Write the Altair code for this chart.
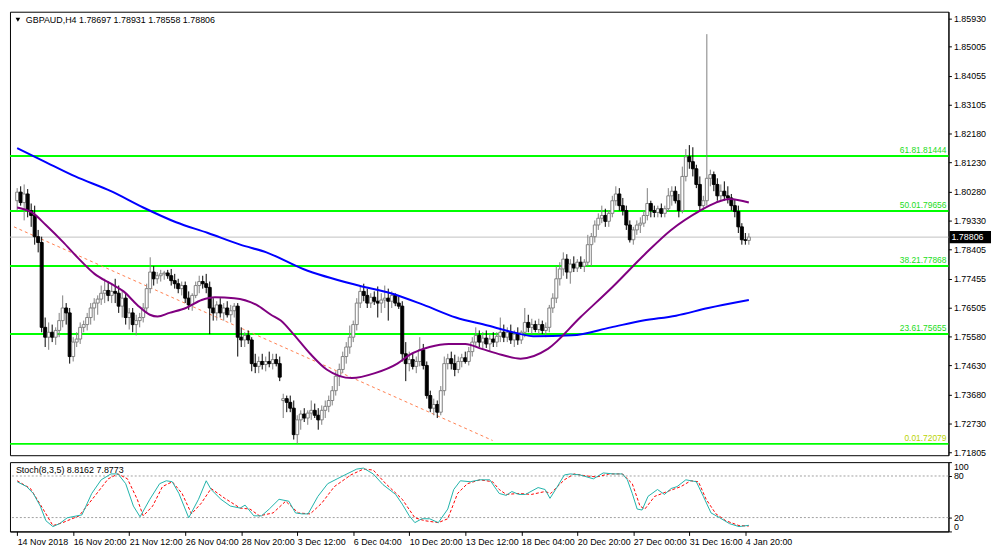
import json
import altair as alt
import pandas as pd

# ---------------- data ----------------
opens = [
    1.7999, 1.8027, 1.7993, 1.8021, 1.7967, 1.7951, 1.7882, 1.7863, 1.7587, 1.7555,
    1.7571, 1.7555, 1.7577, 1.7609, 1.7650, 1.7634, 1.7492, 1.7539, 1.7549, 1.7587,
    1.7596, 1.7619, 1.7650, 1.7666, 1.7679, 1.7698, 1.7707, 1.7691, 1.7704, 1.7698,
    1.7656, 1.7682, 1.7619, 1.7634, 1.7596, 1.7609, 1.7619, 1.7650, 1.7713, 1.7767,
    1.7745, 1.7755, 1.7761, 1.7764, 1.7755, 1.7739, 1.7729, 1.7713, 1.7723, 1.7682,
    1.7660, 1.7691, 1.7723, 1.7736, 1.7729, 1.7717, 1.7650, 1.7634, 1.7660, 1.7634,
    1.7650, 1.7628, 1.7641, 1.7656, 1.7555, 1.7546, 1.7561, 1.7546, 1.7469, 1.7460,
    1.7476, 1.7466, 1.7476, 1.7469, 1.7482, 1.7469, 1.7349, 1.7355, 1.7343, 1.7324,
    1.7238, 1.7286, 1.7305, 1.7292, 1.7308, 1.7317, 1.7301, 1.7286, 1.7317, 1.7330,
    1.7349, 1.7381, 1.7428, 1.7450, 1.7492, 1.7523, 1.7555, 1.7596, 1.7666, 1.7704,
    1.7691, 1.7666, 1.7685, 1.7672, 1.7666, 1.7676, 1.7682, 1.7672, 1.7691, 1.7666,
    1.7656, 1.7501, 1.7469, 1.7482, 1.7460, 1.7476, 1.7514, 1.7463, 1.7365, 1.7324,
    1.7336, 1.7311, 1.7381, 1.7469, 1.7485, 1.7469, 1.7450, 1.7476, 1.7488, 1.7476,
    1.7508, 1.7539, 1.7561, 1.7539, 1.7552, 1.7533, 1.7549, 1.7539, 1.7558, 1.7571,
    1.7555, 1.7571, 1.7546, 1.7565, 1.7546, 1.7571, 1.7603, 1.7587, 1.7596, 1.7580,
    1.7596, 1.7577, 1.7587, 1.7650, 1.7682, 1.7745, 1.7777, 1.7809, 1.7767, 1.7793,
    1.7780, 1.7799, 1.7786, 1.7799, 1.7856, 1.7882, 1.7920, 1.7942, 1.7951, 1.7932,
    1.7958, 1.7999, 1.8021, 1.7983, 1.7967, 1.7920, 1.7872, 1.7904, 1.7920, 1.7926,
    1.7951, 1.7990, 1.7967, 1.7961, 1.7973, 1.7958, 1.7973, 1.8015, 1.8030, 1.7999,
    1.7967, 1.8078, 1.8142, 1.8126, 1.8103, 1.8052, 1.7983, 1.7999, 1.8072, 1.8084,
    1.8052, 1.8015, 1.8030, 1.8015, 1.8008, 1.7983, 1.7964, 1.7914, 1.7872, 1.78697,
]
highs = [
    1.8040, 1.8046, 1.8052, 1.8037, 1.7990, 1.7983, 1.7904, 1.7882, 1.7619, 1.7603,
    1.7596, 1.7587, 1.7634, 1.7691, 1.7666, 1.7650, 1.7555, 1.7571, 1.7603, 1.7609,
    1.7634, 1.7666, 1.7682, 1.7691, 1.7723, 1.7745, 1.7736, 1.7729, 1.7745, 1.7723,
    1.7704, 1.7698, 1.7650, 1.7650, 1.7628, 1.7634, 1.7666, 1.7729, 1.7815, 1.7786,
    1.7767, 1.7774, 1.7771, 1.7774, 1.7777, 1.7761, 1.7745, 1.7736, 1.7736, 1.7704,
    1.7698, 1.7736, 1.7755, 1.7755, 1.7761, 1.7736, 1.7682, 1.7672, 1.7682, 1.7666,
    1.7672, 1.7660, 1.7666, 1.7666, 1.7587, 1.7571, 1.7577, 1.7555, 1.7501, 1.7492,
    1.7501, 1.7492, 1.7508, 1.7501, 1.7501, 1.7492, 1.7371, 1.7365, 1.7365, 1.7349,
    1.7301, 1.7317, 1.7324, 1.7317, 1.7349, 1.7339, 1.7324, 1.7333, 1.7349, 1.7365,
    1.7396, 1.7444, 1.7469, 1.7508, 1.7539, 1.7593, 1.7609, 1.7682, 1.7723, 1.7729,
    1.7713, 1.7698, 1.7704, 1.7720, 1.7698, 1.7723, 1.7713, 1.7704, 1.7698, 1.7688,
    1.7672, 1.7539, 1.7508, 1.7501, 1.7492, 1.7555, 1.7533, 1.7476, 1.7381, 1.7355,
    1.7349, 1.7396, 1.7492, 1.7501, 1.7508, 1.7498, 1.7492, 1.7501, 1.7508, 1.7523,
    1.7555, 1.7587, 1.7577, 1.7571, 1.7577, 1.7565, 1.7571, 1.7571, 1.7619, 1.7596,
    1.7587, 1.7596, 1.7577, 1.7587, 1.7577, 1.7650, 1.7628, 1.7615, 1.7609, 1.7615,
    1.7609, 1.7603, 1.7660, 1.7698, 1.7786, 1.7799, 1.7831, 1.7825, 1.7809, 1.7818,
    1.7809, 1.7818, 1.7809, 1.7888, 1.7894, 1.7935, 1.7958, 1.7983, 1.7973, 1.7967,
    1.8015, 1.8046, 1.8040, 1.8008, 1.7983, 1.7935, 1.7914, 1.7935, 1.7945, 1.7967,
    1.8040, 1.7999, 1.7983, 1.7983, 1.7990, 1.7983, 1.8040, 1.8046, 1.8046, 1.8021,
    1.8110, 1.8167, 1.8180, 1.8173, 1.8116, 1.8078, 1.8015, 1.8541, 1.8100, 1.8094,
    1.8072, 1.8052, 1.8062, 1.8046, 1.8021, 1.8005, 1.7983, 1.7926, 1.7894, 1.78931,
]
lows = [
    1.7967, 1.7983, 1.7935, 1.7945, 1.7914, 1.7856, 1.7831, 1.7571, 1.7523, 1.7514,
    1.7539, 1.7530, 1.7555, 1.7587, 1.7596, 1.7469, 1.7476, 1.7523, 1.7533, 1.7571,
    1.7577, 1.7596, 1.7609, 1.7628, 1.7660, 1.7666, 1.7672, 1.7666, 1.7666, 1.7634,
    1.7619, 1.7596, 1.7580, 1.7571, 1.7561, 1.7587, 1.7603, 1.7634, 1.7698, 1.7723,
    1.7729, 1.7736, 1.7742, 1.7745, 1.7723, 1.7713, 1.7698, 1.7691, 1.7666, 1.7644,
    1.7641, 1.7682, 1.7698, 1.7713, 1.7698, 1.7565, 1.7609, 1.7609, 1.7619, 1.7609,
    1.7619, 1.7603, 1.7619, 1.7492, 1.7523, 1.7523, 1.7533, 1.7444, 1.7438, 1.7438,
    1.7450, 1.7444, 1.7457, 1.7450, 1.7460, 1.7412, 1.7292, 1.7311, 1.7311, 1.7222,
    1.7208, 1.7254, 1.7279, 1.7270, 1.7286, 1.7292, 1.7254, 1.7270, 1.7292, 1.7311,
    1.7333, 1.7365, 1.7396, 1.7438, 1.7469, 1.7501, 1.7539, 1.7577, 1.7650, 1.7672,
    1.7650, 1.7650, 1.7660, 1.7619, 1.7634, 1.7650, 1.7609, 1.7650, 1.7656, 1.7647,
    1.7476, 1.7412, 1.7444, 1.7450, 1.7438, 1.7460, 1.7450, 1.7355, 1.7311, 1.7301,
    1.7292, 1.7301, 1.7365, 1.7450, 1.7450, 1.7428, 1.7438, 1.7457, 1.7469, 1.7463,
    1.7492, 1.7523, 1.7523, 1.7514, 1.7520, 1.7508, 1.7523, 1.7523, 1.7539, 1.7539,
    1.7539, 1.7533, 1.7523, 1.7530, 1.7533, 1.7555, 1.7571, 1.7565, 1.7571, 1.7565,
    1.7565, 1.7555, 1.7571, 1.7634, 1.7666, 1.7723, 1.7755, 1.7745, 1.7729, 1.7767,
    1.7767, 1.7777, 1.7767, 1.7786, 1.7786, 1.7863, 1.7904, 1.7926, 1.7914, 1.7914,
    1.7945, 1.7983, 1.7967, 1.7951, 1.7904, 1.7863, 1.7856, 1.7888, 1.7894, 1.7914,
    1.7935, 1.7945, 1.7945, 1.7945, 1.7945, 1.7945, 1.7964, 1.7983, 1.7990, 1.7945,
    1.7958, 1.8062, 1.8103, 1.8078, 1.8040, 1.7967, 1.7967, 1.7983, 1.8046, 1.8030,
    1.7999, 1.7999, 1.7999, 1.7990, 1.7967, 1.7945, 1.7894, 1.7856, 1.7856, 1.78558,
]
closes = [
    1.8027, 1.7993, 1.8021, 1.7967, 1.7951, 1.7882, 1.7863, 1.7587, 1.7555, 1.7571,
    1.7555, 1.7577, 1.7609, 1.7650, 1.7634, 1.7492, 1.7539, 1.7549, 1.7587, 1.7596,
    1.7619, 1.7650, 1.7666, 1.7679, 1.7698, 1.7707, 1.7691, 1.7704, 1.7698, 1.7656,
    1.7682, 1.7619, 1.7634, 1.7596, 1.7609, 1.7619, 1.7650, 1.7713, 1.7767, 1.7745,
    1.7755, 1.7761, 1.7764, 1.7755, 1.7739, 1.7729, 1.7713, 1.7723, 1.7682, 1.7660,
    1.7691, 1.7723, 1.7736, 1.7729, 1.7717, 1.7650, 1.7634, 1.7660, 1.7634, 1.7650,
    1.7628, 1.7641, 1.7656, 1.7555, 1.7546, 1.7561, 1.7546, 1.7469, 1.7460, 1.7476,
    1.7466, 1.7476, 1.7469, 1.7482, 1.7469, 1.7425, 1.7355, 1.7343, 1.7324, 1.7238,
    1.7286, 1.7305, 1.7292, 1.7308, 1.7317, 1.7301, 1.7286, 1.7317, 1.7330, 1.7349,
    1.7381, 1.7428, 1.7450, 1.7492, 1.7523, 1.7555, 1.7596, 1.7666, 1.7704, 1.7691,
    1.7666, 1.7685, 1.7672, 1.7666, 1.7676, 1.7682, 1.7672, 1.7691, 1.7666, 1.7656,
    1.7501, 1.7469, 1.7482, 1.7460, 1.7476, 1.7514, 1.7463, 1.7365, 1.7324, 1.7336,
    1.7311, 1.7381, 1.7469, 1.7485, 1.7469, 1.7450, 1.7476, 1.7488, 1.7476, 1.7508,
    1.7539, 1.7561, 1.7539, 1.7552, 1.7533, 1.7549, 1.7539, 1.7558, 1.7571, 1.7555,
    1.7571, 1.7546, 1.7565, 1.7546, 1.7571, 1.7603, 1.7587, 1.7596, 1.7580, 1.7596,
    1.7577, 1.7587, 1.7650, 1.7682, 1.7745, 1.7777, 1.7809, 1.7767, 1.7793, 1.7780,
    1.7799, 1.7786, 1.7799, 1.7856, 1.7882, 1.7920, 1.7942, 1.7951, 1.7932, 1.7958,
    1.7999, 1.8021, 1.7983, 1.7967, 1.7920, 1.7872, 1.7904, 1.7920, 1.7926, 1.7951,
    1.7990, 1.7967, 1.7961, 1.7973, 1.7958, 1.7973, 1.8015, 1.8030, 1.7999, 1.7967,
    1.8078, 1.8142, 1.8126, 1.8103, 1.8052, 1.7983, 1.7999, 1.8072, 1.8084, 1.8052,
    1.8015, 1.8030, 1.8015, 1.8008, 1.7983, 1.7964, 1.7914, 1.7872, 1.7870, 1.78806,
]

# moving averages (bar index, value)
ma_slow_bar = [0, 7.4, 16.6, 26.8, 36, 45.4, 54.5, 63.7, 71.2, 81.7, 97.5, 106.7, 116.1,
               125.3, 134.4, 143.8, 147.4, 158.5, 169.6, 178.8, 188.2, 197.4, 209]
ma_slow_val = [1.8170, 1.8129, 1.8078, 1.8030, 1.7977, 1.7929, 1.7894, 1.7856, 1.7831,
               1.7777, 1.7723, 1.7698, 1.7660, 1.7619, 1.7593, 1.7565, 1.7558, 1.7561,
               1.7587, 1.7609, 1.7625, 1.7650, 1.7676]
ma_fast_bar = [0, 4.6, 8.2, 13, 17.7, 22.1, 26.8, 30.4, 34.3, 37.9, 40.1, 43.5, 48.2, 52.7,
               56.5, 62, 68.4, 72.5, 75.3, 78.9, 83.7, 88.4, 95.6, 102.2, 108.6, 112.2,
               117.8, 123.3, 128, 132.7, 138.3, 143.8, 151.6, 160.8, 170.2, 179.3, 186.8,
               195.1, 199.6, 203.5, 209]
ma_fast_val = [1.7977, 1.7958, 1.7920, 1.7866, 1.7809, 1.7761, 1.7729, 1.7704, 1.7660,
               1.7628, 1.7622, 1.7634, 1.7650, 1.7676, 1.7685, 1.7682, 1.7660, 1.7628,
               1.7609, 1.7565, 1.7501, 1.7450, 1.7422, 1.7438, 1.7469, 1.7498, 1.7523,
               1.7533, 1.7533, 1.7517, 1.7498, 1.7485, 1.7517, 1.7619, 1.7720, 1.7825,
               1.7904, 1.7967, 1.7993, 1.8005, 1.7993]

# dashed trend line (two anchor points)
trend_bar = [-0.9, 135.8]
trend_val = [1.7914, 1.7219]

# Fibonacci levels
fib_pct = ["0.0", "23.6", "38.2", "50.0", "61.8"]
fib_price = [1.72079, 1.75655, 1.77868, 1.79656, 1.81444]
last_price = 1.78806

# stochastic (bar index, value)
k_bar = [0, 2.7, 4.6, 6.6, 8.2, 10.2, 12.1, 14.3, 18.5, 21.3, 24, 26.8, 28.8, 31, 33.2,
         35.1, 37.9, 40.7, 42.6, 44.3, 46.2, 49, 51.8, 54, 55.4, 58.2, 60.9, 63.7, 65.1,
         67.6, 69.8, 72, 74.8, 77.6, 79.5, 81.4, 83.1, 85.9, 88.7, 91.4, 94.2, 97, 98.9,
         101.7, 104.5, 108.1, 110, 112, 113.6, 115.6, 117.8, 120.3, 123, 124.7, 126.6,
         129.4, 132.2, 135, 136.9, 137.7, 139.7, 141.3, 143.3, 145.2, 148.8, 150.8, 152.2,
         153.8, 156.3, 158, 160.8, 162.7, 164.6, 167.4, 170.2, 172.9, 174.3, 175.7, 177.1,
         178.5, 180.2, 182.9, 184.9, 186.8, 188.5, 191, 194, 196, 198.2, 200.7, 203.5,
         206.2, 209]
k_val = [71.7, 64.7, 54.8, 36.6, 15.5, 7.0, 11.2, 19.7, 23.9, 54.8, 74.5, 83, 83, 68.9,
         36.6, 21.1, 46.4, 68.9, 73.1, 71.7, 54.8, 19.7, 46.4, 73.1, 60.5, 46.4, 36.6, 33.7,
         38, 22.5, 22.5, 32.3, 46.4, 43.6, 26.7, 25.3, 25.3, 50.6, 68.9, 75.9, 83, 90, 91.4,
         83, 67.5, 53.4, 39.4, 22.5, 12.7, 18.3, 18.3, 12.7, 32.3, 60.5, 73.1, 71.7, 74.5,
         74.5, 60.5, 54.8, 52, 57.6, 53.4, 53.4, 63.3, 60.5, 47.8, 60.5, 81.5, 83, 81.5,
         78.7, 75.9, 84.4, 83, 83, 74.5, 54.8, 32.3, 30.9, 50.6, 60.5, 53.4, 61.9, 64.7,
         74.5, 71.7, 50.6, 26.7, 19.7, 11.2, 7.0, 8.8162]
d_bar = [0, 3.8, 7.4, 10.2, 13, 17.7, 22.1, 26, 28.8, 31.5, 34.3, 36, 38.7, 41.5, 44.3,
         47.1, 49.8, 52.6, 55.4, 59.3, 63.7, 66.5, 69.2, 73.1, 76.7, 80.3, 83.7, 87, 90.6,
         95.3, 98.9, 101.7, 105.3, 110, 113.6, 116.4, 120.3, 123, 125.8, 128.6, 132.2,
         135.8, 137.7, 139.7, 143.3, 146.9, 150.8, 152.4, 156.3, 159.1, 162.7, 165.5,
         169.1, 172.9, 175.7, 177.9, 179.3, 182.1, 185.7, 189.6, 192.4, 194.6, 196.8,
         199.6, 202.4, 206.2, 209]
d_val = [73.1, 61.9, 32.3, 8.4, 12.7, 22.5, 50.6, 75.9, 83, 75.9, 46.4, 22.5, 36.6, 64.7,
         71.7, 54.8, 25.3, 40.8, 61.9, 47.8, 33.7, 32.3, 22.5, 26.7, 43.6, 26.7, 25.3, 40.8,
         64.7, 81.5, 90, 88.6, 68.9, 46.4, 19.7, 15.5, 12.7, 18.3, 54.8, 68.9, 74.5, 71.7,
         60.5, 53.4, 54.8, 53.4, 57.6, 54.8, 74.5, 83, 80, 78.7, 83, 83, 68.9, 36.6, 32.3,
         50.6, 57.6, 64.7, 73.1, 71.7, 46.4, 25.3, 15.5, 8.4, 7.8773]
stoch_levels = [20, 80]

# axis labels
price_ticks = [1.71805, 1.72730, 1.73680, 1.74630, 1.75580, 1.76505, 1.77455, 1.78405,
               1.79330, 1.80280, 1.81230, 1.82180, 1.83105, 1.84055, 1.85005, 1.85930]
time_label_bar = [0, 16, 32, 48, 64, 80, 96, 112, 128, 144, 160, 176, 192, 208]
time_labels = ["14 Nov 2018", "16 Nov 20:00", "21 Nov 12:00", "26 Nov 04:00",
               "28 Nov 20:00", "3 Dec 12:00", "6 Dec 04:00", "10 Dec 20:00",
               "13 Dec 12:00", "18 Dec 04:00", "20 Dec 20:00", "27 Dec 00:00",
               "31 Dec 16:00", "4 Jan 20:00"]
header_main = "GBPAUD,H4  1.78697 1.78931 1.78558 1.78806"
header_stoch = "Stoch(8,3,5) 8.8162 7.8773"

# ---------------- layout / style ----------------
W = 948
H_MAIN = 448
H_STO = 70
FONT = "Liberation Sans"
X_DOM = [-0.64, 264.6]
P_DOM = [1.7171, 1.8614]

candles = pd.DataFrame({"i": list(range(len(closes))), "o": opens, "h": highs,
                        "l": lows, "c": closes})
candles["kind"] = ["bull" if c >= o else "bear" for o, c in zip(opens, closes)]
ma_slow = pd.DataFrame({"i": ma_slow_bar, "v": ma_slow_val})
ma_fast = pd.DataFrame({"i": ma_fast_bar, "v": ma_fast_val})
trend = pd.DataFrame({"i": trend_bar, "v": trend_val})
fib = pd.DataFrame({"pct": fib_pct, "v": fib_price})
fib["label"] = [p + f"{v:.5f}" for p, v in zip(fib_pct, fib_price)]
last = pd.DataFrame({"v": [last_price], "label": [f"{last_price:.5f}"]})
kdf = pd.DataFrame({"i": k_bar, "v": k_val})
ddf = pd.DataFrame({"i": d_bar, "v": d_val})
lev = pd.DataFrame({"v": stoch_levels})

xscale = alt.Scale(domain=X_DOM, nice=False, zero=False)
yscale = alt.Scale(domain=P_DOM, nice=False, zero=False)
yaxis = alt.Axis(orient="right", values=price_ticks, format=".5f", title=None, grid=False,
                 labelFont=FONT, labelFontSize=9, labelColor="black", tickColor="black",
                 tickSize=3, labelPadding=2, domainColor="black")


def X(field="i:Q", axis=None):
    return alt.X(field, scale=xscale, axis=axis, title=None)


def Y(field):
    return alt.Y(field, scale=yscale, axis=yaxis, title=None)


fib_rules = alt.Chart(fib).mark_rule(color="#00FF00", strokeWidth=2).encode(y=Y("v:Q"))
last_rule = alt.Chart(last).mark_rule(color="#C0C0C0", strokeWidth=1).encode(y=Y("v:Q"))
trend_line = alt.Chart(trend).mark_line(color="#FF7F50", strokeWidth=1, strokeDash=[3, 3],
                                        clip=True).encode(x=X(), y=Y("v:Q"))
kind_scale = alt.Scale(domain=["bull", "bear"], range=["#808080", "#000000"])
fill_scale = alt.Scale(domain=["bull", "bear"], range=["#FFFFFF", "#000000"])
wicks = alt.Chart(candles).mark_rule(strokeWidth=1).encode(
    x=X(), y=Y("l:Q"), y2="h:Q",
    stroke=alt.Stroke("kind:N", scale=kind_scale, legend=None))
bodies = alt.Chart(candles).mark_bar(size=3, strokeWidth=1).encode(
    x=X(), y=Y("o:Q"), y2="c:Q",
    fill=alt.Fill("kind:N", scale=fill_scale, legend=None),
    stroke=alt.Stroke("kind:N", scale=kind_scale, legend=None))
slow_line = alt.Chart(ma_slow).mark_line(color="#0000FF", strokeWidth=2,
                                         interpolate="monotone").encode(x=X(), y=Y("v:Q"))
fast_line = alt.Chart(ma_fast).mark_line(color="#800080", strokeWidth=2,
                                         interpolate="monotone").encode(x=X(), y=Y("v:Q"))
fib_text_other = alt.Chart(fib).transform_filter("datum.pct != '0.0'").mark_text(
    align="right", baseline="bottom", font=FONT, fontSize=8.5, dy=-1, color="#22DD22"
).encode(x=alt.value(W - 2), y=Y("v:Q"), text="label:N")
fib_text_zero = alt.Chart(fib).transform_filter("datum.pct == '0.0'").mark_text(
    align="right", baseline="bottom", font=FONT, fontSize=8.5, dy=-1, color="#B8D400"
).encode(x=alt.value(W - 2), y=Y("v:Q"), text="label:N")
last_box = alt.Chart(last).mark_point(
    shape="M-1,-0.29L1,-0.29L1,0.29L-1,0.29Z", filled=True, color="black", opacity=1,
    size=1764, clip=False).encode(x=alt.value(W + 22), y=Y("v:Q"))
last_text = alt.Chart(last).mark_text(align="left", baseline="middle", font=FONT,
                                      fontSize=9, color="white", clip=False).encode(
    x=alt.value(W + 3), y=Y("v:Q"), text="label:N")
head = alt.Chart(pd.DataFrame({"t": [header_main]})).mark_text(
    align="left", baseline="middle", font=FONT, fontSize=9, color="black").encode(
    x=alt.value(16), y=alt.value(8), text="t:N")
tri = alt.Chart(pd.DataFrame({"t": ["x"]})).mark_point(
    shape="triangle-down", filled=True, color="black", size=22, opacity=1).encode(
    x=alt.value(8), y=alt.value(8))

main = alt.layer(fib_rules, last_rule, trend_line, wicks, bodies, slow_line, fast_line,
                 fib_text_other, fib_text_zero, last_box, last_text, head, tri
                 ).properties(width=W, height=H_MAIN)

label_expr = f"{json.dumps(time_labels)}[indexof({json.dumps(time_label_bar)}, datum.value)]"
xaxis = alt.Axis(values=time_label_bar, labelExpr=label_expr, grid=False, title=None,
                 labelFont=FONT, labelFontSize=9, labelColor="black", labelAlign="left",
                 labelPadding=2, tickSize=4, tickColor="black", domainColor="black")
sscale = alt.Scale(domain=[0, 100], nice=False, zero=False)
saxis = alt.Axis(orient="right", values=[0, 20, 80, 100], title=None, grid=False,
                 labelFont=FONT, labelFontSize=9, labelColor="black", tickColor="black",
                 tickSize=3, labelPadding=2, labelFlush=True, domainColor="black")


def SY(field):
    return alt.Y(field, scale=sscale, axis=saxis, title=None)


lev_rules = alt.Chart(lev).mark_rule(color="#A0A0A0", strokeDash=[2, 2], strokeWidth=1).encode(
    y=SY("v:Q"))
k_line = alt.Chart(kdf).mark_line(color="#20B2AA", strokeWidth=1).encode(
    x=X("i:Q", xaxis), y=SY("v:Q"))
d_line = alt.Chart(ddf).mark_line(color="#FF0000", strokeWidth=1, strokeDash=[3, 2]).encode(
    x=X("i:Q", xaxis), y=SY("v:Q"))
shead = alt.Chart(pd.DataFrame({"t": [header_stoch]})).mark_text(
    align="left", baseline="middle", font=FONT, fontSize=9, color="black").encode(
    x=alt.value(6), y=alt.value(8), text="t:N")
stoch = alt.layer(lev_rules, d_line, k_line, shead).properties(width=W, height=H_STO)

chart = alt.vconcat(main, stoch, spacing=3).properties(
    padding={"left": 0, "top": 0, "right": 0, "bottom": 0}, background="white"
).configure_view(stroke="black", strokeWidth=1).resolve_scale(x="shared")

chart.save("out.html", embed_options={"renderer": "svg", "actions": False})
